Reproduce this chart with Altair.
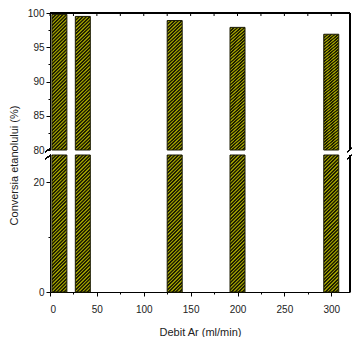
import altair as alt
import pandas as pd

# ---- data ----
debit = [10, 35, 133, 200, 300]                 # Debit Ar (ml/min)
conversia = [99.8, 99.5, 98.9, 97.9, 96.9]      # Conversia etanolului (%)
x_tick_values = [0, 25, 50, 75, 100, 125, 150, 175, 200, 225, 250, 275, 300]
y_top_ticks = [80, 82.5, 85, 87.5, 90, 92.5, 95, 97.5, 100]
y_bottom_ticks = [0, 10, 20]

BAR_HALF = 8
W, HT, HB = 300, 137, 137
XDOM = [0, 320]
FONT = "Liberation Sans"

df = pd.DataFrame({"debit": debit, "conv": conversia})
df["x1"] = df["debit"] - BAR_HALF
df["x2"] = df["debit"] + BAR_HALF
ticks_df = pd.DataFrame({"t": x_tick_values})


def hatch(w=15.0, h=137.0, period=3.5, dark="#1e1e00", light="#9a9a00"):
    s = (w + h) / (w * w + h * h)
    n = int(round((w + h) / period))
    stops = []
    for i in range(n):
        a = i / n
        stops += [
            {"offset": a, "color": dark},
            {"offset": a + 0.40 / n, "color": dark},
            {"offset": a + 0.55 / n, "color": light},
            {"offset": a + 0.85 / n, "color": light},
            {"offset": a + 1.0 / n, "color": dark},
        ]
    return {"gradient": "linear", "x1": 0, "y1": 0, "x2": w * s, "y2": h * s, "stops": stops}


FILL = hatch()
xscale = alt.Scale(domain=XDOM, nice=False, zero=False)
line = dict(color="black", strokeWidth=1)

# ---------- top panel (80-100) ----------
top_bars = alt.Chart(df).mark_bar(fill=FILL, stroke="#1a1a00", strokeWidth=1).encode(
    x=alt.X("x1:Q", scale=xscale, axis=None),
    x2="x2:Q",
    y=alt.Y(
        "conv:Q",
        scale=alt.Scale(domain=[80, 100], nice=False, zero=False),
        axis=alt.Axis(
            values=y_top_ticks,
            labelExpr="datum.value % 5 === 0 ? datum.label : ''",
            tickSize={"condition": {"test": "datum.value % 5 !== 0", "value": 2}, "value": 4},
            grid=False,
            title="Conversia etanolului (%)",
            titleX=-33,
            titleY=152,
            titleBaseline="alphabetic",
            titleAngle=-90,
        ),
    ),
    y2=alt.datum(80),
)

top_border = alt.Chart(ticks_df).mark_rule(**line).encode(
    x=alt.value(0), x2=alt.value(W), y=alt.value(0)
)
right_border_top = alt.Chart(ticks_df).mark_rule(**line).encode(
    x=alt.value(W), y=alt.value(0), y2=alt.value(HT)
)
top_ticks = alt.Chart(ticks_df).mark_rule(**line).encode(
    x=alt.X("t:Q", scale=xscale, axis=None), y=alt.value(0), y2=alt.value(3)
)
brk_left_top = alt.Chart(ticks_df).mark_rule(**line).encode(
    x=alt.value(-5), x2=alt.value(1), y=alt.value(HT + 2), y2=alt.value(HT - 2)
)
brk_right_top = alt.Chart(ticks_df).mark_rule(**line).encode(
    x=alt.value(W - 3), x2=alt.value(W + 2), y=alt.value(HT + 2), y2=alt.value(HT - 2)
)

top = alt.layer(top_bars, top_ticks, top_border, right_border_top, brk_left_top, brk_right_top).properties(
    width=W, height=HT
)

# ---------- bottom panel (0-25) ----------
bot_bars = alt.Chart(df).transform_calculate(ytop="min(datum.conv, 25)").mark_bar(
    fill=FILL, stroke="#1a1a00", strokeWidth=1
).encode(
    x=alt.X(
        "x1:Q",
        scale=xscale,
        axis=alt.Axis(
            values=x_tick_values,
            labelExpr="datum.value % 50 === 0 ? datum.label : ''",
            tickSize={"condition": {"test": "datum.value % 50 !== 0", "value": 2}, "value": 4},
            grid=False,
            title="Debit Ar (ml/min)",
            titlePadding=12,
            labelPadding=8,
        ),
    ),
    x2="x2:Q",
    y=alt.Y(
        "ytop:Q",
        scale=alt.Scale(domain=[0, 25], nice=False, zero=False),
        axis=alt.Axis(
            values=y_bottom_ticks,
            labelExpr="datum.value % 20 === 0 ? datum.label : ''",
            tickSize={"condition": {"test": "datum.value % 20 !== 0", "value": 2}, "value": 4},
            grid=False,
            title=None,
        ),
    ),
    y2=alt.datum(0),
)

right_border_bot = alt.Chart(ticks_df).mark_rule(**line).encode(
    x=alt.value(W), y=alt.value(0), y2=alt.value(HB)
)
brk_left_bot = alt.Chart(ticks_df).mark_rule(**line).encode(
    x=alt.value(-5), x2=alt.value(1), y=alt.value(4), y2=alt.value(0)
)
brk_right_bot = alt.Chart(ticks_df).mark_rule(**line).encode(
    x=alt.value(W - 3), x2=alt.value(W + 2), y=alt.value(4), y2=alt.value(0)
)

bottom = alt.layer(bot_bars, right_border_bot, brk_left_bot, brk_right_bot).properties(width=W, height=HB)

chart = (
    alt.vconcat(top, bottom, spacing=5, bounds="flush")
    .properties(padding={"left": 0, "top": 0, "right": 0, "bottom": 0})
    .configure_view(stroke=None)
    .configure_axis(
        domainColor="black",
        tickColor="black",
        labelColor="#222222",
        titleColor="#222222",
        labelFont=FONT,
        titleFont=FONT,
        labelFontSize=10,
        titleFontSize=11,
        titleFontWeight="normal",
        domainWidth=1,
        tickWidth=1,
    )
)

chart.save("out.html", embed_options={"renderer": "svg", "actions": False})
